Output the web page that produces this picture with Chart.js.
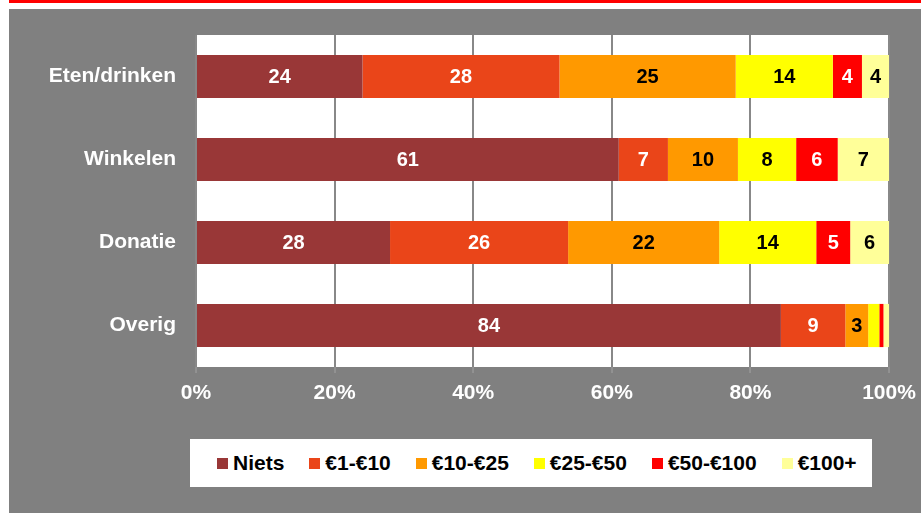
<!DOCTYPE html>
<html>
<head>
<meta charset="utf-8">
<script src="https://cdn.jsdelivr.net/npm/chart.js@4/dist/chart.umd.min.js"></script>
<style>
  html, body { margin: 0; padding: 0; background: #fff; width: 921px; height: 513px; overflow: hidden; }
  #fondo { position: absolute; left: 9px; top: 9px; width: 912px; height: 504px; background: #808080; }
  #lijn { position: absolute; left: 9px; top: 0; width: 912px; height: 3px; background: #ff0000; }
  #grafiek { position: absolute; left: 0; top: 0; }
  #legenda {
    position: absolute; left: 190px; top: 439px; width: 682px; height: 48px;
    background: #fff; display: flex; align-items: center; box-sizing: border-box;
    padding-left: 27px; gap: 25px;
    font-family: "Liberation Sans", Arial, sans-serif; font-weight: bold; font-size: 21px; color: #000;
  }
  .item { display: flex; align-items: center; }
  .vak { width: 11px; height: 11px; margin-right: 5px; }
</style>
</head>
<body>
<div id="lijn"></div>
<div id="fondo"></div>
<canvas id="grafiek" width="921" height="513"></canvas>
<div id="legenda"></div>

<script>
const categorieen = ['Eten/drinken', 'Winkelen', 'Donatie', 'Overig'];
const reeksen = ['Niets', '€1-€10', '€10-€25', '€25-€50', '€50-€100', '€100+'];

const niets    = [24.0, 61.0, 28.0, 84.4];
const e1_10    = [28.4, 7.1, 25.7, 9.3];
const e10_25   = [25.4, 10.1, 21.8, 3.3];
const e25_50   = [14.0, 8.4, 14.0, 1.6];
const e50_100  = [4.2, 6.0, 4.9, 0.6];
const e100plus = [3.9, 7.4, 5.6, 0.8];

const xTicks = ['0%', '20%', '40%', '60%', '80%', '100%'];

const kleuren = ['#993737', '#ea4519', '#ff9900', '#ffff00', '#ff0000', '#ffff99'];
const labelKleur = ['#fff', '#fff', '#000', '#000', '#fff', '#000'];

const waarden = [niets, e1_10, e10_25, e25_50, e50_100, e100plus];

// totaal per categorie, om naar 100% te schalen
const totalen = categorieen.map((c, i) => waarden.reduce((s, r) => s + r[i], 0));

const datasets = waarden.map((rij, d) => ({
  label: reeksen[d],
  data: rij.map((v, i) => v / totalen[i] * 100),
  ruw: rij,
  backgroundColor: kleuren[d],
  borderWidth: 0,
  barPercentage: 0.52,
  categoryPercentage: 1
}));

// witte achtergrond voor het plotgebied
const plotAchtergrond = {
  id: 'plotAchtergrond',
  beforeDraw(chart) {
    const a = chart.chartArea;
    const ctx = chart.ctx;
    ctx.save();
    ctx.fillStyle = '#fff';
    ctx.fillRect(a.left, a.top, a.right - a.left, a.bottom - a.top);
    ctx.restore();
  }
};

// waarden in de balken
const balkLabels = {
  id: 'balkLabels',
  afterDatasetsDraw(chart) {
    const ctx = chart.ctx;
    ctx.save();
    ctx.font = 'bold 20px "Liberation Sans", Arial, sans-serif';
    ctx.textAlign = 'center';
    ctx.textBaseline = 'middle';
    chart.data.datasets.forEach((ds, d) => {
      chart.getDatasetMeta(d).data.forEach((bar, i) => {
        const v = ds.ruw[i];
        if (v < 2.5) return;
        const p = bar.getCenterPoint();
        ctx.fillStyle = labelKleur[d];
        ctx.fillText(String(Math.round(v)), p.x, p.y + 1);
      });
    });
    ctx.restore();
  }
};

new Chart(document.getElementById('grafiek'), {
  type: 'bar',
  data: { labels: categorieen, datasets: datasets },
  options: {
    indexAxis: 'y',
    responsive: false,
    animation: false,
    layout: { padding: { top: 35, right: 32, bottom: 106, left: 0 } },
    plugins: { legend: { display: false }, tooltip: { enabled: false } },
    scales: {
      x: {
        stacked: true,
        min: 0,
        max: 100,
        afterFit(scale) {
          scale.height = 40;
          scale.paddingRight = 0;
          scale.paddingLeft = 0;
        },
        afterBuildTicks(scale) {
          scale.ticks = xTicks.map((t, i) => ({ value: i * 20 }));
        },
        ticks: {
          callback: (v, i) => xTicks[i],
          color: '#fff',
          padding: 8,
          maxRotation: 0,
          font: { family: '"Liberation Sans", Arial, sans-serif', weight: 'bold', size: 21 }
        },
        grid: { color: '#888888', lineWidth: 2, tickLength: 6, tickColor: '#a3a3a3', tickWidth: 1 },
        border: { display: false }
      },
      y: {
        stacked: true,
        afterFit(scale) { scale.width = 196; },
        ticks: {
          color: '#fff',
          padding: 20,
          font: { family: '"Liberation Sans", Arial, sans-serif', weight: 'bold', size: 21 }
        },
        grid: { display: false, drawTicks: false },
        border: { display: false }
      }
    }
  },
  plugins: [plotAchtergrond, balkLabels]
});

// legenda
const legenda = document.getElementById('legenda');
reeksen.forEach((naam, i) => {
  const item = document.createElement('div');
  item.className = 'item';
  item.innerHTML = `<span class="vak" style="background:${kleuren[i]}"></span><span>${naam}</span>`;
  legenda.appendChild(item);
});
</script>
</body>
</html>
